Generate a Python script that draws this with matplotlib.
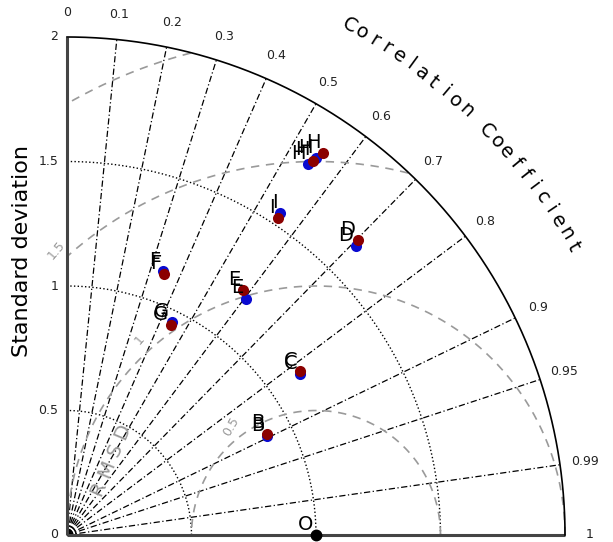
import numpy as np
import matplotlib.pyplot as plt

# --- Dades (llegides del gràfic) ---
labels = ['B', 'C', 'D', 'E', 'F', 'G', 'H', 'H', 'I']
std_blue = [0.895, 1.138, 1.641, 1.190, 1.128, 0.954, 1.777, 1.814, 1.550]
corr_blue = [0.897, 0.823, 0.707, 0.604, 0.342, 0.442, 0.545, 0.551, 0.552]
std_red = [0.900, 1.145, 1.664, 1.211, 1.118, 0.941, 1.798, 1.847, 1.529]
corr_red = [0.892, 0.818, 0.702, 0.583, 0.349, 0.444, 0.549, 0.557, 0.554]
std_obs = 1.0

corr_ticks = [0, 0.1, 0.2, 0.3, 0.4, 0.5, 0.6, 0.7, 0.8, 0.9, 0.95, 0.99, 1]
std_ticks = [0, 0.5, 1, 1.5, 2]
rmsd_levels = [0.5, 1, 1.5, 2]
smax = 2.0

fig = plt.figure(figsize=(6.13, 5.42), dpi=100)
ax = fig.add_axes([67/613, 7/542, 498/613, 498/542])
ax.set_xlim(0, smax)
ax.set_ylim(0, smax)
ax.axis('off')

th = np.linspace(0, np.pi/2, 300)

# arcs de desviació estàndard
for s in [0.5, 1.0, 1.5]:
    ax.plot(s*np.cos(th), s*np.sin(th), color='black', ls=':', lw=1.0, clip_on=False)
for s in [0.012, 0.024, 0.036]:
    ax.plot(s*np.cos(th), s*np.sin(th), color='black', lw=0.9, clip_on=False)

# línies de correlació
for c in corr_ticks[1:-1]:
    a = np.arccos(c)
    ax.plot([0, smax*np.cos(a)], [0, smax*np.sin(a)], color='black',
            ls=(0, (5, 2, 1, 2)), lw=0.9, clip_on=False)

# contorns RMSD centrats a l'observació
phi = np.linspace(0, np.pi, 600)
for r in rmsd_levels:
    x = std_obs + r*np.cos(phi)
    y = r*np.sin(phi)
    ok = (x >= 0) & (x**2 + y**2 <= smax**2)
    x = np.where(ok, x, np.nan)
    y = np.where(ok, y, np.nan)
    ax.plot(x, y, color='#9a9a9a', ls=(0, (5, 4)), lw=1.2, clip_on=False)

rmsd_lab_pos = [(0.659, 0.434, 60), (0.293, 0.783, 50), (-0.044, 1.145, 50)]
for r, (lx, ly, rot) in zip(['0.5', '1', '1.5'], rmsd_lab_pos):
    ax.text(lx, ly, r, color='#9a9a9a', fontsize=9, rotation=rot,
            ha='center', va='center')
ax.text(0.18, 0.30, 'R M S D', color='#9a9a9a', fontsize=14, rotation=67,
        ha='center', va='center')

# eixos
ax.plot([0, 0], [0, smax], color='#444444', lw=2.2, clip_on=False, solid_capstyle='butt')
ax.plot([0, smax], [0, 0], color='#444444', lw=2.2, clip_on=False, solid_capstyle='butt')
ax.plot(smax*np.cos(th), smax*np.sin(th), color='black', lw=1.2, clip_on=False)

for s in std_ticks:
    ax.text(-0.035, s, f'{s:g}', ha='right', va='center', fontsize=9, color='#222222')

for c in corr_ticks:
    a = np.arccos(c)
    ax.text(2.1*np.cos(a), 2.1*np.sin(a), f'{c:g}', ha='center', va='center',
            fontsize=9, color='#222222')

# títol corbat
title = 'Correlation Coefficient'
angs = np.linspace(np.radians(61), np.radians(29.7), len(title))
for ch, a in zip(title, angs):
    ax.text(2.34*np.cos(a), 2.34*np.sin(a), ch, rotation=np.degrees(a) - 90,
            ha='center', va='center', fontsize=14)

ax.text(-0.18, 1.14, 'Standard deviation', rotation=90, ha='center', va='center',
        fontsize=16)

# punts
for lab, s, c in zip(labels, std_blue, corr_blue):
    x, y = s*c, s*np.sqrt(1 - c**2)
    ax.annotate(lab, (x, y), xytext=(-2, 1), textcoords='offset points',
                ha='right', va='bottom', fontsize=14)
    ax.plot(x, y, 'o', color='#0a0ad0', ms=8, mec='none', clip_on=False)
for lab, s, c in zip(labels, std_red, corr_red):
    x, y = s*c, s*np.sqrt(1 - c**2)
    ax.annotate(lab, (x, y), xytext=(-2, 1), textcoords='offset points',
                ha='right', va='bottom', fontsize=14)
    ax.plot(x, y, 'o', color='#8b0000', ms=8, mec='none', clip_on=False)

ax.annotate('O', (std_obs, 0), xytext=(-2, 1), textcoords='offset points',
            ha='right', va='bottom', fontsize=14)
ax.plot(std_obs, 0, 'o', color='black', ms=7.5, clip_on=False, zorder=5)

fig.savefig('out.png', dpi=100)
